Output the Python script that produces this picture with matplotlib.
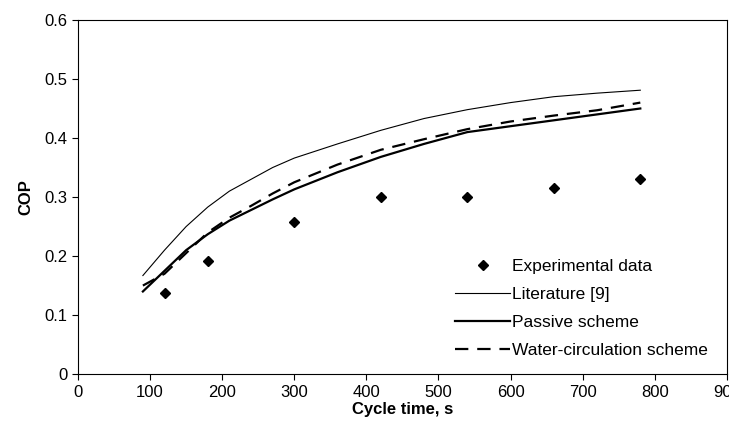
import matplotlib
matplotlib.use("Agg")
import matplotlib.pyplot as plt

plt.rcParams['font.family'] = ['Liberation Sans', 'DejaVu Sans']

# experimental points
exp_t = [120, 180, 300, 420, 540, 660, 780]
exp_cop = [0.138, 0.192, 0.258, 0.300, 0.300, 0.315, 0.330]

# model curves
t = [90, 120, 150, 180, 210, 240, 270, 300, 360, 420, 480, 540, 600, 660, 720, 780]
lit_cop = [0.167, 0.21, 0.25, 0.283, 0.31, 0.33, 0.35, 0.366, 0.39, 0.413, 0.433, 0.448, 0.46, 0.47, 0.476, 0.481]
passive_cop = [0.14, 0.175, 0.21, 0.237, 0.26, 0.278, 0.296, 0.313, 0.342, 0.368, 0.39, 0.41, 0.42, 0.43, 0.44, 0.45]
water_cop = [0.15, 0.17, 0.205, 0.24, 0.265, 0.285, 0.306, 0.325, 0.355, 0.38, 0.398, 0.415, 0.428, 0.438, 0.447, 0.46]

fig = plt.figure(figsize=(7.29, 4.34), dpi=100)
ax = fig.add_axes([0.107, 0.138, 0.890, 0.816])

ax.plot(exp_t, exp_cop, 'kD', markersize=5, linestyle='none', label='Experimental data')
ax.plot(t, lit_cop, 'k-', linewidth=0.8, label='Literature [9]')
ax.plot(t, passive_cop, 'k-', linewidth=1.6, label='Passive scheme')
ax.plot(t, water_cop, 'k--', linewidth=1.6, dashes=(6, 4), label='Water-circulation scheme')

ax.set_xlim(0, 900)
ax.set_ylim(0, 0.6)
ax.set_xticks(range(0, 901, 100))
ax.set_yticks([0, 0.1, 0.2, 0.3, 0.4, 0.5, 0.6])
ax.set_yticklabels(['0', '0.1', '0.2', '0.3', '0.4', '0.5', '0.6'])
ax.tick_params(labelsize=12, direction='out', length=4)
ax.set_xlabel('Cycle time, s', fontsize=12, fontweight='bold', labelpad=2)
ax.set_ylabel('COP', fontsize=12, fontweight='bold', labelpad=8)

ax.legend(loc='lower right', bbox_to_anchor=(0.995, 0.0), frameon=False,
          fontsize=12.5, handlelength=3.2, handletextpad=0.1, labelspacing=0.75)

fig.savefig('out.png', dpi=100)
